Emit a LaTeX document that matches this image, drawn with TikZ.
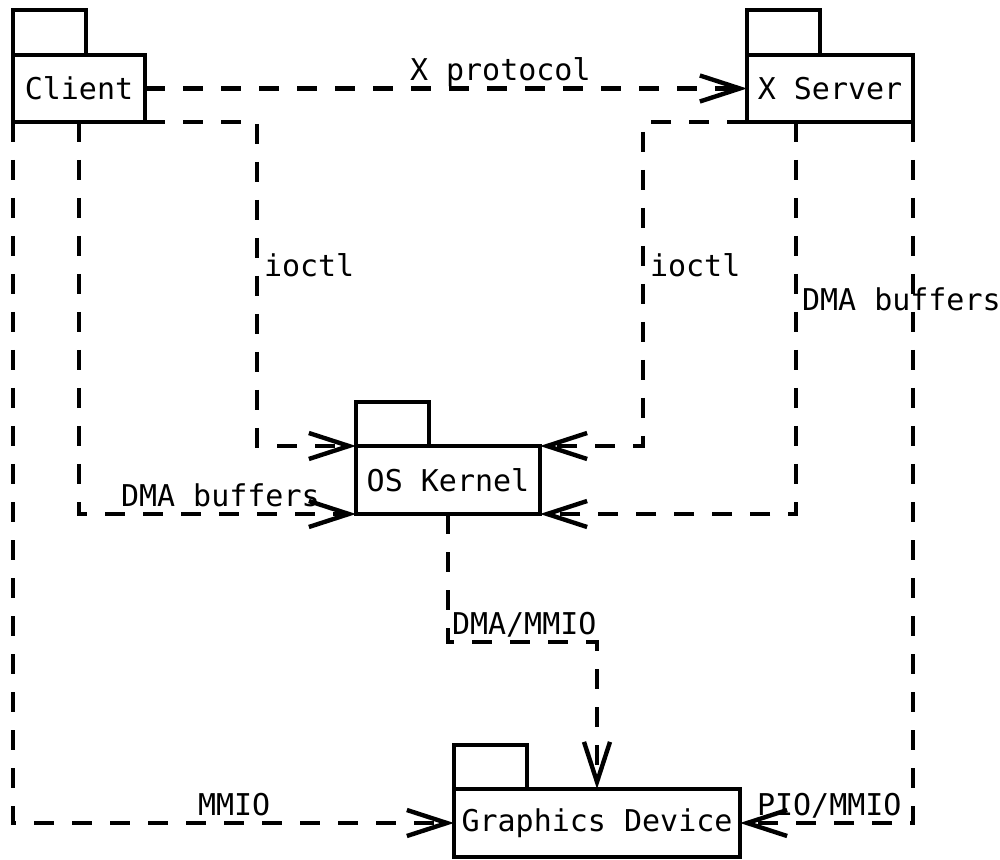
\documentclass[tikz,border=0pt]{standalone}
\usepackage{fontspec}
\newfontfamily\dvmono{DejaVu Sans Mono}
\usetikzlibrary{arrows.meta}
\begin{document}
\begin{tikzpicture}[x=0.5pt,y=-0.5pt,
  every node/.style={font=\dvmono\fontsize{15}{18}\selectfont, outer sep=0pt},
  pkg/.style={draw, line width=2.2pt, inner sep=0pt, minimum height=33.5pt, fill=white},
  tabbox/.style={draw, line width=2.2pt, inner sep=0pt, minimum width=36.5pt, minimum height=22.5pt, anchor=south west},
  dep/.style={line width=2.2pt, dash pattern=on 10pt off 9pt, -{Straight Barb[length=20pt,width=13pt,line width=2.2pt]}},
  lbl/.style={anchor=base west, inner sep=0pt}
]
\fill[white] (0,0) rectangle (1000,860);
\useasboundingbox (0,0) rectangle (1000,860);

% packages
\node[pkg, minimum width=66pt] (client) at (79,88.5) {Client};
\node[tabbox] (clienttab) at (client.north west) {};
\node[pkg, minimum width=83pt] (xserver) at (830,88.5) {X Server};
\node[tabbox] (xservertab) at (xserver.north west) {};
\node[pkg, minimum width=92pt, minimum height=34pt] (kernel) at (448,480) {OS Kernel};
\node[tabbox, minimum height=22pt] (kerneltab) at (kernel.north west) {};
\node[pkg, minimum width=143pt, minimum height=34pt] (gfx) at (597,823) {Graphics Device};
\node[tabbox, minimum height=22pt] (gfxtab) at (gfx.north west) {};

% helper coordinates
\coordinate (c1) at (257,122);
\coordinate (c2) at (643,122);
\coordinate (c3) at (796,122);
\coordinate (c4) at (448,642);

% connectors
\draw[dep] (client.east) -- (xserver.west);
\draw[dep] (client.south east) -- (c1) |- (kernel.north west);
\draw[dep] (client.south) |- (kernel.south west);
\draw[dep] (client.south west) |- (gfx.west);
\draw[dep] (xserver.south west) -- (c2) |- (kernel.north east);
\draw[dep] (c3) |- (kernel.south east);
\draw[dep] (xserver.south east) |- (gfx.east);
\draw[dep] (kernel.south) -- (c4) -| (gfx.north);

% labels
\node[lbl] (lxp) at (410,81) {X protocol};
\node[lbl] (lio1) at (264,277) {ioctl};
\node[lbl] (lio2) at (650,277) {ioctl};
\node[lbl] (ldma2) at (802,311) {DMA buffers};
\node[lbl] (ldma1) at (121,506) {DMA buffers};
\node[lbl] (ldm) at (452,634) {DMA/MMIO};
\node[lbl] (lmmio) at (198,815) {MMIO};
\node[lbl] (lpio) at (757,815) {PIO/MMIO};
\end{tikzpicture}
\end{document}
